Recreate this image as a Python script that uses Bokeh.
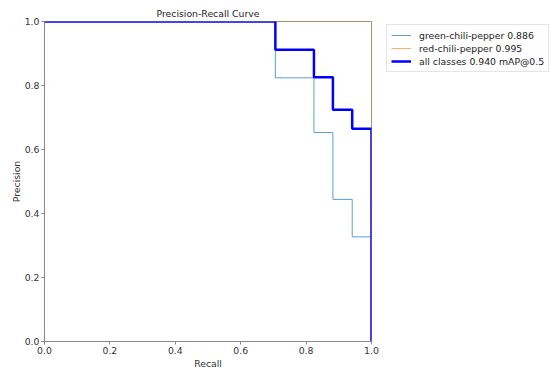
from bokeh.plotting import figure
from bokeh.layouts import row
from bokeh.models import Legend, LegendItem, FixedTicker, Range1d
from bokeh.embed import file_html
from bokeh.resources import INLINE

# Data: recall breakpoints and precision level held after each breakpoint
green_recall = [0.0, 0.706, 0.824, 0.882, 0.941, 1.0]
green_prec = [1.0, 0.824, 0.653, 0.444, 0.327, 0.0]

red_recall = [0.0, 1.0]
red_prec = [1.0, 0.0]

all_recall = [0.0, 0.706, 0.824, 0.882, 0.941, 1.0]
all_prec = [1.0, 0.912, 0.826, 0.724, 0.665, 0.0]

labels = ["green-chili-pepper 0.886", "red-chili-pepper 0.995", "all classes 0.940 mAP@0.5"]
ticks = [0.0, 0.2, 0.4, 0.6, 0.8, 1.0]


def steps(rx, py):
    xs, ys = [], []
    for i in range(len(rx)):
        if i > 0:
            xs.append(rx[i]); ys.append(py[i - 1])
        xs.append(rx[i]); ys.append(py[i])
    return xs, ys


FONT = "DejaVu Sans"
styles = [dict(line_color="#5aa0d6", line_width=1),
          dict(line_color="#ff9a40", line_width=1, line_alpha=0.8),
          dict(line_color="blue", line_width=2.5)]
series = [(green_recall, green_prec), (red_recall, red_prec), (all_recall, all_prec)]

p = figure(width=383, height=377, output_backend="svg", toolbar_location=None,
           x_range=Range1d(0, 1), y_range=Range1d(0, 1),
           min_border_left=44, min_border_right=12, min_border_top=21, min_border_bottom=36)
p.title.text = "Precision-Recall Curve"
p.title.align = "center"
p.title.text_font = FONT
p.title.text_font_style = "normal"
p.title.text_font_size = "9.3px"
p.title.text_color = "#222222"
p.title.offset = 0
p.title.standoff = 5

p.xgrid.visible = False
p.ygrid.visible = False
p.outline_line_color = "#888888"
p.outline_line_width = 1
p.outline_line_alpha = 1

for ax, lab in ((p.xaxis, "Recall"), (p.yaxis, "Precision")):
    ax.ticker = FixedTicker(ticks=ticks)
    ax.minor_tick_line_color = None
    ax.major_tick_in = 0
    ax.major_tick_out = 3
    ax.major_tick_line_color = "#888888"
    ax.axis_line_color = "#888888"
    ax.major_label_text_font = FONT
    ax.major_label_text_font_size = "9.3px"
    ax.major_label_text_color = "#333333"
    ax.major_label_standoff = 2
    ax.axis_label = lab
    ax.axis_label_text_font = FONT
    ax.axis_label_text_font_size = "9.3px"
    ax.axis_label_text_font_style = "normal"
    ax.axis_label_text_color = "#333333"
p.xaxis.axis_label_standoff = 1
p.yaxis.axis_label_standoff = 0
p.xaxis.major_label_overrides = {t: f"{t:.1f}" for t in ticks}
p.yaxis.major_label_overrides = {t: f"{t:.1f}" for t in ticks}

for (rx_, ry_), st in zip(series, styles):
    xs, ys = steps(rx_, ry_)
    p.line(xs, ys, **st)

# Legend panel to the right of the axes (its ranges keep the copies of the lines out of view)
q = figure(width=169, height=377, output_backend="svg", toolbar_location=None,
           x_axis_type=None, y_axis_type=None, x_range=Range1d(5, 6), y_range=Range1d(5, 6),
           min_border_left=0, min_border_right=0, min_border_top=0, min_border_bottom=0)
q.outline_line_color = None
q.xgrid.visible = False
q.ygrid.visible = False
items = []
for lab, (rx_, ry_), st in zip(labels, series, styles):
    xs, ys = steps(rx_, ry_)
    r = q.line(xs, ys, **st)
    items.append(LegendItem(label=lab, renderers=[r]))

legend = Legend(items=items, location=(3, 269))
legend.label_text_font = FONT
legend.label_text_font_size = "9.3px"
legend.label_text_color = "#222222"
legend.label_height = 12
legend.glyph_height = 12
legend.glyph_width = 20
legend.label_standoff = 8
legend.spacing = 1
legend.padding = 4
legend.margin = 0
legend.border_line_color = "#cccccc"
legend.background_fill_alpha = 1
q.add_layout(legend)

layout = row(p, q)
open("out.html", "w").write(file_html(layout, INLINE))
